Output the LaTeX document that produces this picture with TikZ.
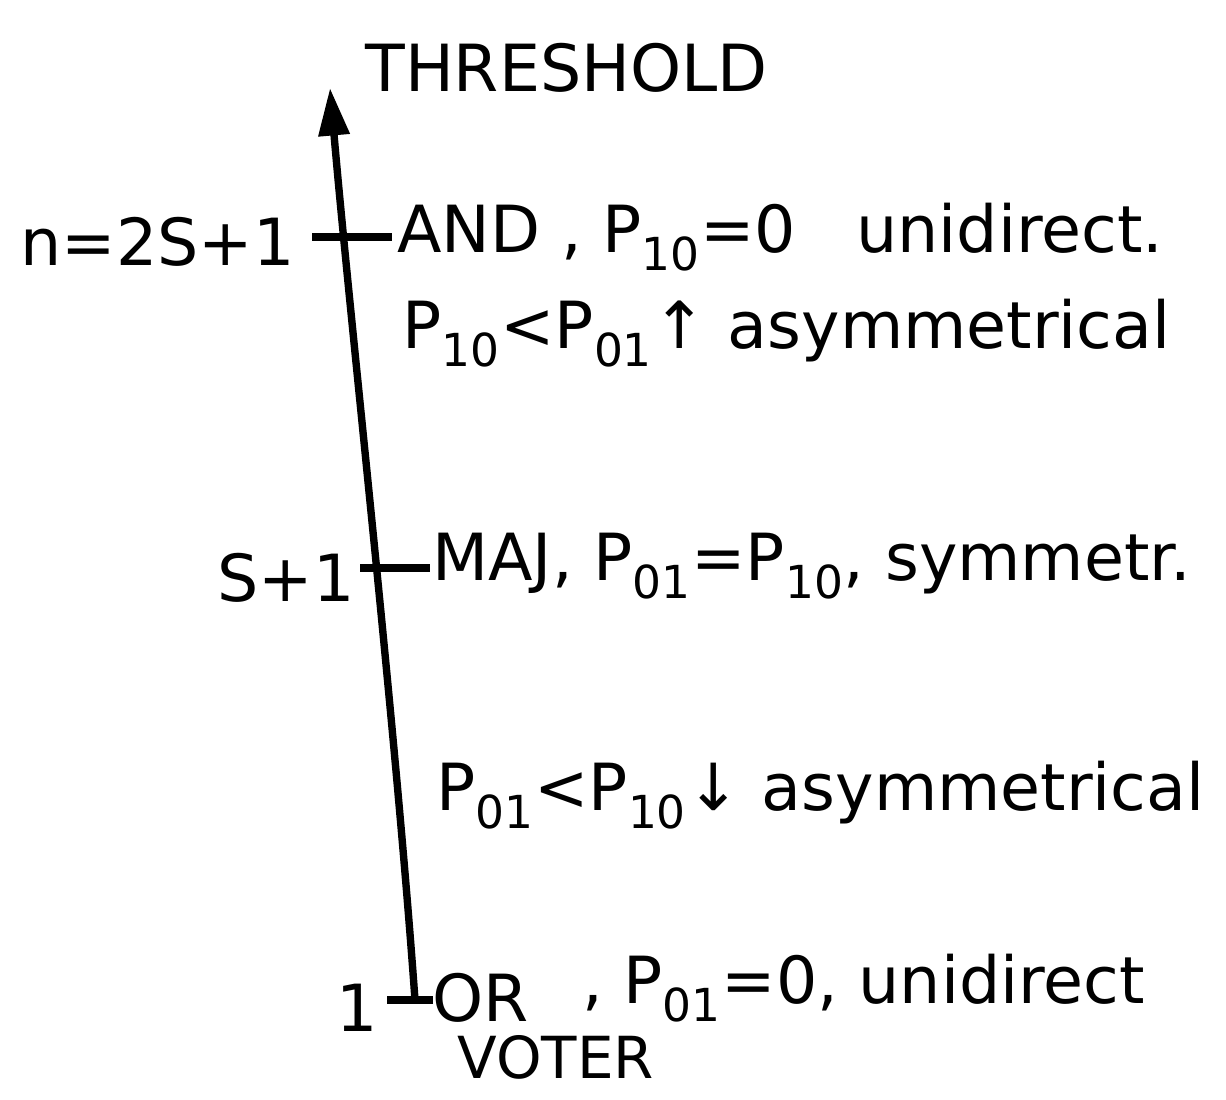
\documentclass[tikz,border=0pt]{standalone}
\usepackage{fontspec}
\setmainfont{DejaVu Sans}
\usetikzlibrary{arrows.meta, positioning, calc}

\begin{document}
\begin{tikzpicture}[
    x=0.02cm, y=-0.02cm,
    axis/.style={line width=4.2pt, line cap=round},
    tick/.style={line width=4.2pt},
    lbl/.style={inner sep=0pt, font=\fontsize{37}{41}\selectfont},
    >={Triangle[length=0.95cm, width=0.6cm]},
]
    \useasboundingbox (0,0) rectangle (1226,1099);

    % axis and ticks
    \coordinate (bot)  at (415,1000);
    \coordinate (top)  at (330,88);
    \coordinate (tkn)  at (348,237);
    \coordinate (tks)  at (376,568);
    \draw[axis,->] (bot) .. controls (395,720) and (350,320) .. (top);
    \draw[tick] ($(tkn)+(-36,0)$) -- ($(tkn)+(44,0)$);
    \draw[tick] ($(tks)+(-16,0)$) -- ($(tks)+(54,0)$);
    \draw[tick] ($(bot)+(-28,0)$) -- ($(bot)+(18,0)$);

    % labels
    \node[lbl, anchor=west]  (thr)   at (365,68)   {THRESHOLD};
    \node[lbl, anchor=east]  (nval)  at (295,242)  {n=2S+1};
    \node[lbl, anchor=west]  (andg)  at (397,237)  {AND , P\textsubscript{10}=0\hspace{1.2cm}unidirect.};
    \node[lbl, anchor=west]  (asy1)  at (402,333)  {P\textsubscript{10}<P\textsubscript{01}↑ asymmetrical};
    \node[lbl, anchor=east]  (sval)  at (355,578)  {S+1};
    \node[lbl, anchor=west]  (maj)   at (432,566)  {MAJ, P\textsubscript{01}=P\textsubscript{10}, symmetr.};
    \node[lbl, anchor=west]  (asy2)  at (436,795)  {P\textsubscript{01}<P\textsubscript{10}↓ asymmetrical};
    \node[lbl, anchor=east]  (one)   at (378,1008) {1};
    \node[lbl, anchor=west]  (org)   at (432,998)  {OR};
    \node[lbl, below=0.25cm of org.south west, anchor=north west, xshift=0.5cm, font=\fontsize{33}{37}\selectfont] (voter) {VOTER};
    \node[lbl, anchor=west]  (ors)   at (582,988)  {, P\textsubscript{01}=0, unidirect};
\end{tikzpicture}
\end{document}
